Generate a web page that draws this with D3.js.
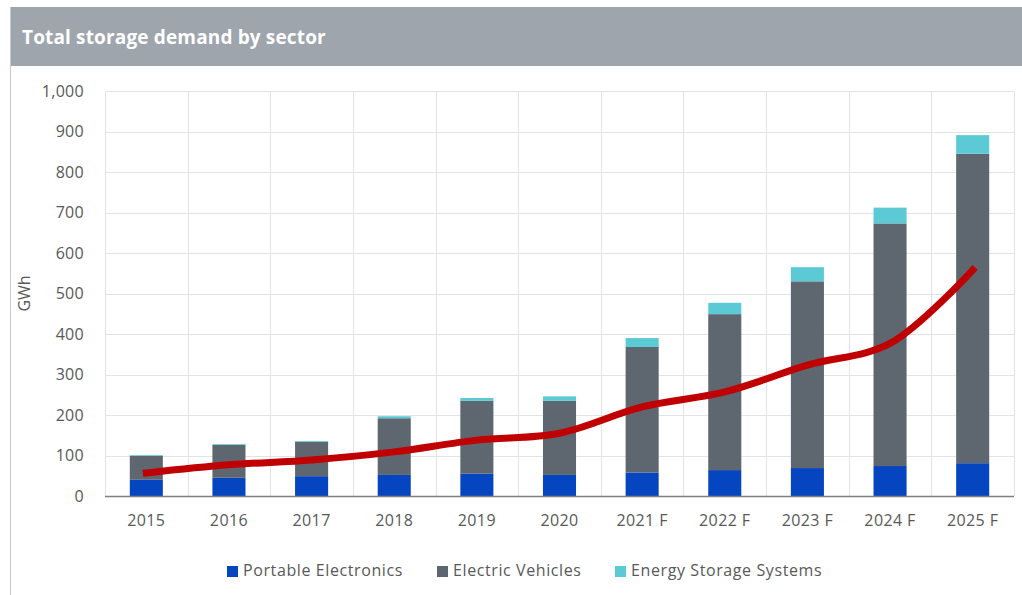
<!DOCTYPE html>
<html>
<head>
<meta charset="utf-8">
<script src="https://cdn.jsdelivr.net/npm/d3@7"></script>
<style>
  html, body { margin: 0; padding: 0; background: #fff; }
  svg { display: block; }
</style>
</head>
<body>
<svg id="chart" width="1022" height="595"></svg>
<script>
// Demand by sector, GWh
const years = ["2015", "2016", "2017", "2018", "2019", "2020", "2021 F", "2022 F", "2023 F", "2024 F", "2025 F"];
const portableElectronics = [40, 45, 49, 52, 55, 52, 58, 64, 69, 74, 81];
const electricVehicles = [59, 81, 85, 140, 180, 183, 310, 385, 461, 599, 764];
const energyStorage = [2, 2, 2, 5, 7, 11, 22, 28, 35, 39, 46];
// Trend line drawn over the bars
const trend = [57, 77, 89, 109, 138, 155, 220, 257, 323, 377, 558];
const yTicks = [0, 100, 200, 300, 400, 500, 600, 700, 800, 900, 1000];

const seriesKeys = ["Portable Electronics", "Electric Vehicles", "Energy Storage Systems"];
const colors = ["#0645c0", "#5e6670", "#5ccad4"];

const rows = years.map((y, i) => ({
  year: y,
  "Portable Electronics": portableElectronics[i],
  "Electric Vehicles": electricVehicles[i],
  "Energy Storage Systems": energyStorage[i]
}));

const svg = d3.select("#chart");
const font = "'Open Sans', sans-serif";
const textColor = "#595959";

// Header band
svg.append("rect").attr("x", 10).attr("y", 7).attr("width", 1012).attr("height", 59).attr("fill", "#9ea5ad");
svg.append("line").attr("x1", 10.5).attr("x2", 10.5).attr("y1", 7).attr("y2", 595).attr("stroke", "#c8c8c8");
svg.append("text").attr("x", 22).attr("y", 44)
  .attr("font-family", font).attr("font-weight", 700).attr("font-size", 19)
  .attr("letter-spacing", 0.15)
  .attr("fill", "#ffffff").text("Total storage demand by sector");

const margin = { left: 105, right: 1014, top: 91, bottom: 496 };

const x = d3.scaleBand().domain(years).range([margin.left, margin.right]).paddingInner(0).paddingOuter(0);
const y = d3.scaleLinear().domain([0, 1000]).range([margin.bottom, margin.top]);

const g = svg.append("g");

// Horizontal gridlines
g.selectAll("line.hgrid").data(yTicks.filter(d => d > 0)).join("line")
  .attr("class", "hgrid")
  .attr("x1", margin.left).attr("x2", margin.right)
  .attr("y1", d => Math.round(y(d)) + 0.5).attr("y2", d => Math.round(y(d)) + 0.5)
  .attr("stroke", "#e3e3e6").attr("stroke-width", 1);

// Vertical gridlines at category boundaries
const bounds = years.map(d => x(d)).concat([x(years[years.length - 1]) + x.bandwidth()]);
g.selectAll("line.vgrid").data(bounds).join("line")
  .attr("class", "vgrid")
  .attr("x1", d => Math.round(d) + 0.5).attr("x2", d => Math.round(d) + 0.5)
  .attr("y1", margin.top).attr("y2", margin.bottom)
  .attr("stroke", "#e3e3e6").attr("stroke-width", 1);

// Y axis labels
const yAxis = d3.axisLeft(y).tickValues(yTicks).tickSize(0).tickPadding(21).tickFormat(d3.format(","));
const yg = svg.append("g").attr("transform", `translate(${margin.left},0)`).call(yAxis);
yg.select(".domain").remove();
yg.selectAll("text").attr("font-family", font).attr("font-size", 16)
  .attr("letter-spacing", 0.3).attr("fill", textColor);

// Stacked bars
const stack = d3.stack().keys(seriesKeys)(rows);
const barW = x.bandwidth() * 0.4;
const layers = g.selectAll("g.layer").data(stack).join("g")
  .attr("class", "layer").attr("fill", (d, i) => colors[i]);
layers.selectAll("rect").data(d => d).join("rect")
  .attr("x", d => x(d.data.year) + (x.bandwidth() - barW) / 2)
  .attr("width", barW)
  .attr("y", d => y(d[1]))
  .attr("height", d => y(d[0]) - y(d[1]));

// Baseline
svg.append("line").attr("x1", margin.left).attr("x2", margin.right)
  .attr("y1", margin.bottom + 0.5).attr("y2", margin.bottom + 0.5)
  .attr("stroke", "#7f7f7f").attr("stroke-width", 1.5);

// X axis labels
const xAxis = d3.axisBottom(x).tickSize(0).tickPadding(19);
const xg = svg.append("g").attr("transform", `translate(0,${margin.bottom})`).call(xAxis);
xg.select(".domain").remove();
xg.selectAll("text").attr("font-family", font).attr("font-size", 16)
  .attr("letter-spacing", 0.4).attr("fill", textColor);

// Smoothed trend line
const line = d3.line()
  .x((d, i) => x(years[i]) + x.bandwidth() / 2)
  .y(d => y(d))
  .curve(d3.curveCatmullRom.alpha(0.5));
svg.append("path").datum(trend)
  .attr("d", line)
  .attr("fill", "none").attr("stroke", "#c00000")
  .attr("stroke-width", 7).attr("stroke-linecap", "square");

// Y axis title
svg.append("text")
  .attr("transform", `translate(30,${(margin.top + margin.bottom) / 2}) rotate(-90)`)
  .attr("text-anchor", "middle")
  .attr("font-family", font).attr("font-size", 16).attr("fill", textColor)
  .text("GWh");

// Legend
const legendX = [227, 437, 615];
const lg = svg.append("g");
seriesKeys.forEach((k, i) => {
  lg.append("rect").attr("x", legendX[i]).attr("y", 566).attr("width", 11).attr("height", 11).attr("fill", colors[i]);
  lg.append("text").attr("x", legendX[i] + 16).attr("y", 576)
    .attr("font-family", font).attr("font-size", 16).attr("letter-spacing", 0.6)
    .attr("fill", textColor).text(k);
});
</script>
</body>
</html>
